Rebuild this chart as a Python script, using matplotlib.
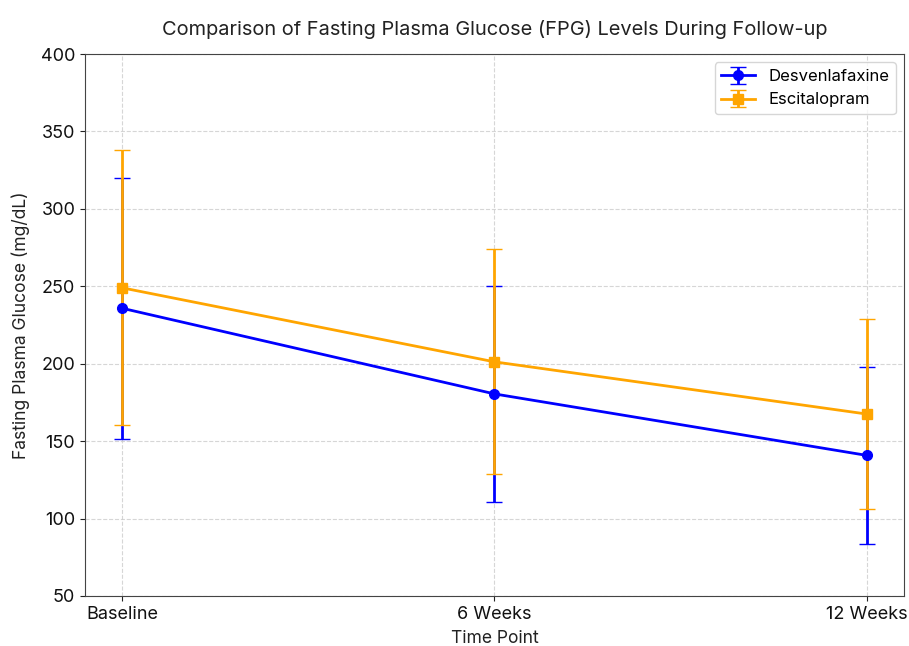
import matplotlib
matplotlib.use("Agg")
import matplotlib.pyplot as plt

time_points = ["Baseline", "6 Weeks", "12 Weeks"]
desv_mean = [235.8, 180.5, 140.8]
desv_err = [84.3, 69.5, 57.0]
esc_mean = [249.0, 201.2, 167.5]
esc_err = [88.7, 72.7, 61.5]

plt.rcParams['font.family'] = ['Inter', 'DejaVu Sans']

fig = plt.figure(figsize=(9.09, 6.46), dpi=100)
ax = fig.add_axes([0.0935, 0.0774, 0.901, 0.839])

x = list(range(len(time_points)))
ax.errorbar(x, desv_mean, yerr=desv_err, color='blue', marker='o', markersize=7,
            linewidth=2, capsize=6, elinewidth=2, label='Desvenlafaxine')
ax.errorbar(x, esc_mean, yerr=esc_err, color='orange', marker='s', markersize=7,
            linewidth=2, capsize=6, elinewidth=2, label='Escitalopram')

ax.set_xticks(x)
ax.set_xticklabels(time_points)
ax.set_xlim(-0.1, 2.1)
ax.set_ylim(50, 400)
ax.set_yticks(range(50, 401, 50))
ax.tick_params(labelsize=13, colors='#222222', labelcolor='#111111')
for s in ax.spines.values():
    s.set_color('#444444')
ax.grid(True, linestyle='--', color='#cccccc', alpha=0.8)
ax.set_xlabel('Time Point', fontsize=12.6, color='#222222', labelpad=5)
ax.set_ylabel('Fasting Plasma Glucose (mg/dL)', fontsize=12.6, color='#222222', labelpad=8)
ax.set_title('Comparison of Fasting Plasma Glucose (FPG) Levels During Follow-up',
             fontsize=14.4, pad=14, color='#222222')
ax.legend(loc='upper right', fontsize=12)

fig.savefig('out.png', dpi=100)
